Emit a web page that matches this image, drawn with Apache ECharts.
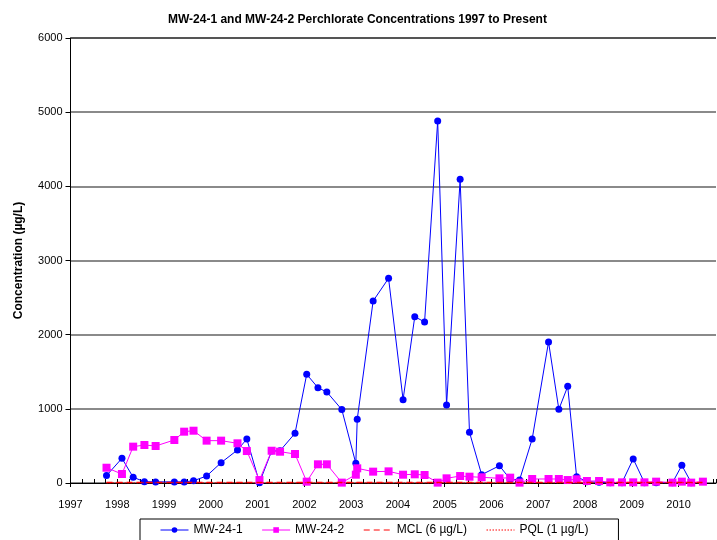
<!DOCTYPE html>
<html>
<head>
<meta charset="utf-8">
<script src="https://cdn.jsdelivr.net/npm/echarts@6/dist/echarts.min.js"></script>
<style>
  html, body { margin: 0; padding: 0; background: #fff; }
  #chart { width: 717px; height: 540px; }
</style>
</head>
<body>
<div id="chart"></div>
<script>
// Sampling dates as decimal years
const sampleDates = [
  1997.77,
  1998.10, 1998.34, 1998.58, 1998.82,
  1999.22, 1999.43, 1999.63, 1999.91,
  2000.22, 2000.57, 2000.77,
  2001.04, 2001.30, 2001.48, 2001.80,
  2002.05, 2002.29, 2002.48, 2002.80,
  2003.10, 2003.13, 2003.47, 2003.80,
  2004.11, 2004.36, 2004.57, 2004.85,
  2005.04, 2005.33, 2005.53, 2005.79,
  2006.17, 2006.40, 2006.60, 2006.87,
  2007.22, 2007.44, 2007.63, 2007.82,
  2008.04, 2008.30, 2008.54, 2008.79,
  2009.03, 2009.27, 2009.52, 2009.87,
  2010.07, 2010.27, 2010.52
];

// Perchlorate concentrations (µg/L)
const mw241 = [
  100,
  333, 77, 18, 15,
  15, 15, 30, 94,
  274, 445, 593,
  5, 430, 435, 670,
  1465, 1285, 1227, 990,
  265, 858, 2454, 2760,
  1124, 2243, 2171, 4881,
  1052, 4094, 683, 112,
  233, 50, 40, 593,
  1901, 993, 1303, 85,
  18, 10, 5, 5,
  325, 5, 5, 5,
  238, 5, null
];

const mw242 = [
  206,
  121, 490, 512, 499,
  580, 692, 705, 571,
  571, 535, 431,
  40, 435, 422, 391,
  18, 252, 252, 5,
  112, 198, 153, 157,
  112, 117, 108, 5,
  63, 94, 85, 77,
  63, 72, 5, 54,
  54, 54, 40, 50,
  27, 27, 9, 9,
  9, 9, 18, 5,
  18, 5, 18
];

// Regulatory limits (µg/L)
const mclValue = 6;
const pqlValue = 1;

// Axis ticks
const yearTicks = [1997, 1998, 1999, 2000, 2001, 2002, 2003, 2004, 2005, 2006, 2007, 2008, 2009, 2010];
const xMin = 1997;
const xMax = 2010.8;
const yMax = 6000;
const yStep = 1000;

const pairs = (vals) => sampleDates.map((d, i) => [d, vals[i]]);
const limitLine = (v) => [[sampleDates[0], v], [sampleDates[sampleDates.length - 1], v]];

const font = 'Arial, "Liberation Sans", sans-serif';

const chart = echarts.init(document.getElementById('chart'));
chart.setOption({
  animation: false,
  backgroundColor: '#fff',
  title: {
    text: 'MW-24-1 and MW-24-2 Perchlorate Concentrations 1997 to Present',
    left: 163,
    top: 9,
    textStyle: { fontFamily: font, fontSize: 12, fontWeight: 'bold', color: '#000' }
  },
  grid: { left: 70.5, right: 1, top: 38, bottom: 57, containLabel: false },
  legend: {
    left: 140,
    top: 519,
    itemWidth: 28,
    itemHeight: 7,
    itemGap: 19,
    padding: [5, 30, 5, 20],
    borderColor: '#000',
    borderWidth: 1,
    lineStyle: { width: 1 },
    textStyle: { fontFamily: font, fontSize: 12, color: '#000' },
    data: [
      { name: 'MW-24-1' },
      { name: 'MW-24-2' },
      { name: 'MCL (6 µg/L)', itemStyle: { opacity: 0 } },
      { name: 'PQL (1 µg/L)', itemStyle: { opacity: 0 } }
    ]
  },
  xAxis: [
    {
      type: 'value',
      min: xMin,
      max: xMax,
      interval: 1,
      position: 'bottom',
      axisLine: { show: true, onZero: false, lineStyle: { color: '#000', width: 1 } },
      axisTick: { show: true, inside: false, length: 4, customValues: yearTicks, lineStyle: { color: '#000' } },
      axisLabel: {
        show: true, margin: 16, customValues: yearTicks,
        fontFamily: font, fontSize: 11, color: '#000',
        formatter: (v) => String(Math.round(v))
      },
      splitLine: { show: false }
    },
    {
      type: 'value',
      min: xMin,
      max: xMax,
      interval: 0.25,
      position: 'bottom',
      axisLine: { show: false },
      axisTick: { show: true, inside: true, length: 4, lineStyle: { color: '#000' } },
      axisLabel: { show: false },
      splitLine: { show: false }
    }
  ],
  yAxis: {
    type: 'value',
    min: 0,
    max: yMax,
    interval: yStep,
    name: 'Concentration (µg/L)',
    nameLocation: 'middle',
    nameGap: 46,
    nameTextStyle: { fontFamily: font, fontSize: 12, fontWeight: 'bold', color: '#000' },
    axisLine: { show: true, lineStyle: { color: '#000', width: 1 } },
    axisTick: { show: true, inside: false, length: 5, lineStyle: { color: '#000' } },
    axisLabel: {
      margin: 8, fontFamily: font, fontSize: 11, color: '#000',
      formatter: (v) => String(v)
    },
    splitLine: { show: true, lineStyle: { color: ['#8a8a8a', '#8a8a8a', '#8a8a8a', '#8a8a8a', '#8a8a8a', '#8a8a8a', '#555'], width: 2 } }
  },
  series: [
    {
      name: 'MW-24-1',
      type: 'line',
      data: pairs(mw241),
      symbol: 'circle',
      symbolSize: 7,
      itemStyle: { color: '#0000ff' },
      lineStyle: { color: '#0000ff', width: 1 },
      connectNulls: false,
      z: 3
    },
    {
      name: 'MW-24-2',
      type: 'line',
      data: pairs(mw242),
      symbol: 'rect',
      symbolSize: 8,
      itemStyle: { color: '#ff00ff' },
      lineStyle: { color: '#ff00ff', width: 1 },
      z: 4
    },
    {
      name: 'MCL (6 µg/L)',
      type: 'line',
      data: limitLine(mclValue),
      symbol: 'none',
      itemStyle: { color: '#ff0000' },
      lineStyle: { color: '#ff0000', width: 1.5, type: [6, 4] },
      z: 5
    },
    {
      name: 'PQL (1 µg/L)',
      type: 'line',
      data: limitLine(pqlValue),
      symbol: 'none',
      itemStyle: { color: '#ff0000' },
      lineStyle: { color: '#ff0000', width: 1, type: [1.5, 1.5] },
      z: 5
    }
  ]
});
</script>
</body>
</html>
